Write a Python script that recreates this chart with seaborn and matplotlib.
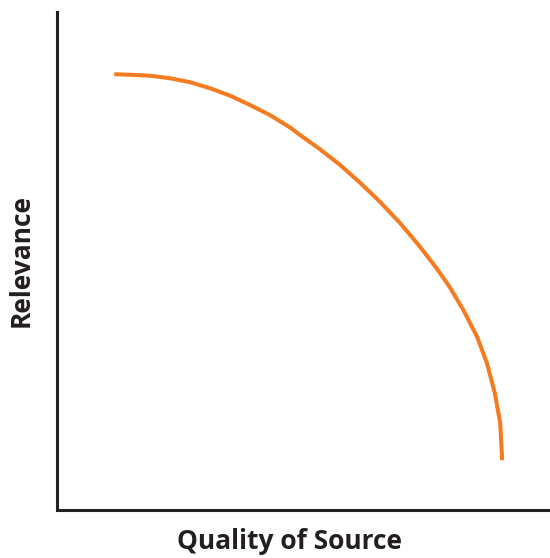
import matplotlib

matplotlib.use("Agg")
import matplotlib.pyplot as plt
import pandas as pd
import seaborn as sns


# curve (axis units 0-100)
QUALITY = [11.6, 14.8, 18.9, 22.9, 27.0, 31.0, 35.1, 39.2, 43.2, 47.3,
           49.3, 53.4, 57.4, 61.5, 65.5, 69.6, 73.6, 77.1, 79.7, 82.4,
           85.2, 87.2, 88.8, 89.9, 90.3]
RELEVANCE = [87.5, 87.4, 87.2, 86.7, 85.9, 84.7, 83.2, 81.3, 79.3, 76.8,
             75.3, 72.4, 69.3, 65.7, 61.9, 57.6, 52.9, 48.4, 44.7, 40.2,
             34.8, 29.5, 23.5, 17.5, 10.0]

X_LABEL = "Quality of Source"
Y_LABEL = "Relevance"

df = pd.DataFrame({"quality": QUALITY, "relevance": RELEVANCE})

sns.set_style("white")
plt.rcParams["font.family"] = ["Open Sans", "DejaVu Sans"]

fig = plt.figure(figsize=(5.5, 5.58), dpi=100)
ax = fig.add_axes([57 / 550, 48 / 558, 493 / 550, 498 / 558])

sns.lineplot(data=df, x="quality", y="relevance", ax=ax, sort=False,
             color="#F47B20", linewidth=2.9, solid_capstyle="butt",
             solid_joinstyle="round")

ax.set_xlim(0, 100)
ax.set_ylim(0, 100)
ax.set_xticks([])
ax.set_yticks([])
sns.despine(ax=ax)
for side in ("left", "bottom"):
    ax.spines[side].set_linewidth(2.2)
    ax.spines[side].set_color("#231F20")

ax.set_xlabel(X_LABEL, fontsize=19, fontweight="bold", color="#231F20")
ax.set_ylabel(Y_LABEL, fontsize=19, fontweight="bold", color="#231F20")
ax.xaxis.set_label_coords(0.4716, -0.064)
ax.xaxis.label.set_va("center")
ax.yaxis.set_label_coords(-0.073, 0.501)
ax.yaxis.label.set_va("center")

fig.savefig("out.png", dpi=100)
